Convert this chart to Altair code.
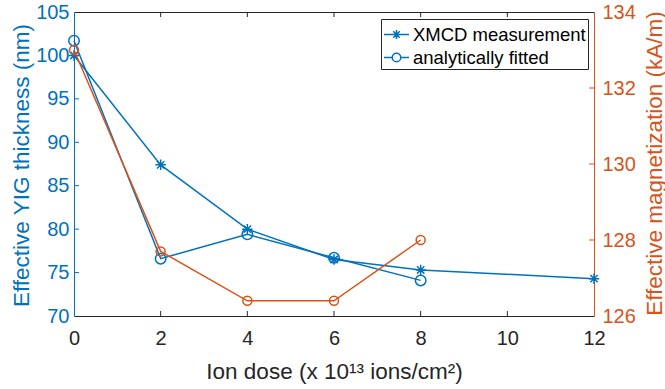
import altair as alt
import pandas as pd

# ---- data ----
dose_xmcd = [0, 2, 4, 6, 8, 12]
thick_xmcd = [100.0, 87.4, 80.0, 76.5, 75.3, 74.3]
dose_fit = [0, 2, 4, 6, 8]
thick_fit = [101.7, 76.6, 79.4, 76.7, 74.1]
dose_mag = [0, 2, 4, 6, 8]
mag_fit = [133.0, 127.7, 126.4, 126.4, 128.0]
series_names = ["XMCD measurement", "analytically fitted"]
x_ticks = [0, 2, 4, 6, 8, 10, 12]
left_ticks = [70, 75, 80, 85, 90, 95, 100, 105]
right_ticks = [126, 128, 130, 132, 134]

BLUE = "#0072BD"
ORANGE = "#D95319"
DARK = "#262626"
FONT = "Liberation Sans"
W, H = 520, 304

blue_df = pd.DataFrame({
    "dose": dose_xmcd + dose_fit,
    "thick": thick_xmcd + thick_fit,
    "series": [series_names[0]] * len(dose_xmcd) + [series_names[1]] * len(dose_fit),
})
mag_df = pd.DataFrame({"dose": dose_mag, "mag": mag_fit})
xt_df = pd.DataFrame({"t": x_ticks[1:-1]})
lt_df = pd.DataFrame({"lt": left_ticks[1:-1]})
rt_df = pd.DataFrame({"rt": right_ticks[1:-1]})

x_scale = alt.Scale(domain=[0, 12], nice=False, zero=False)
left_scale = alt.Scale(domain=[70, 105], nice=False, zero=False)
right_scale = alt.Scale(domain=[126, 134], nice=False, zero=False)

bottom_axis = alt.Axis(
    orient="bottom", values=x_ticks, ticks=False, grid=False, labelFlush=False,
    labelPadding=12, labelFontSize=20, labelFont=FONT, labelColor=DARK,
    domainColor=DARK, domainWidth=1,
    title="Ion dose (x 10¹³ ions/cm²)", titleFont=FONT, titleFontSize=22.5,
    titleFontWeight="normal", titleColor=DARK, titleX=260, titleY=62,
    titleAlign="center", titleBaseline="alphabetic",
)
top_axis = alt.Axis(
    orient="top", values=x_ticks, ticks=False, labels=False, grid=False,
    domainColor=DARK, domainWidth=1, title="",
)
left_axis = alt.Axis(
    orient="left", values=left_ticks, ticks=False, grid=False, labelFlush=False,
    labelPadding=5, labelFontSize=20, labelFont=FONT, labelColor=BLUE,
    domainColor=BLUE, domainWidth=1,
    title="Effective YIG thickness (nm)", titleFont=FONT, titleFontSize=22.5,
    titleFontWeight="normal", titleColor=BLUE, titleAngle=270,
    titleX=-46, titleY=153, titleAlign="center", titleBaseline="alphabetic",
)
right_axis = alt.Axis(
    orient="right", values=right_ticks, ticks=False, grid=False, labelFlush=False,
    labelPadding=8, labelFontSize=20, labelFont=FONT, labelColor=ORANGE,
    domainColor=ORANGE, domainWidth=1,
    title="Effective magnetization (kA/m)", titleFont=FONT, titleFontSize=22.5,
    titleFontWeight="normal", titleColor=ORANGE, titleAngle=270,
    titleX=67, titleY=151, titleAlign="center", titleBaseline="alphabetic",
)

AST = "M-1,0L1,0M0,-1L0,1M-0.7,-0.7L0.7,0.7M-0.7,0.7L0.7,-0.7"
LEG_AST = "M-1,0L1,0M0,-0.36L0,0.36M-0.26,-0.26L0.26,0.26M-0.26,0.26L0.26,-0.26"
LEG_CIR = "M-1,0L-0.34,0M0.34,0L1,0M0.34,0A0.34,0.34,0,1,1,-0.34,0A0.34,0.34,0,1,1,0.34,0"

# ---- left (blue) group ----
left_tick_layer = alt.Chart(lt_df).mark_rule(color=BLUE, strokeWidth=1).encode(
    y=alt.Y("lt:Q", scale=left_scale, axis=left_axis),
    x=alt.value(0), x2=alt.value(5),
)
bottom_tick_layer = alt.Chart(xt_df).mark_rule(color=DARK, strokeWidth=1).encode(
    x=alt.X("t:Q", scale=x_scale, axis=bottom_axis),
    y=alt.value(H), y2=alt.value(H - 5),
)
blue_lines = alt.Chart(blue_df).mark_line(color=BLUE, strokeWidth=1.5).encode(
    x=alt.X("dose:Q", scale=x_scale, axis=bottom_axis),
    y=alt.Y("thick:Q", scale=left_scale, axis=left_axis),
    detail="series:N",
)
blue_points = alt.Chart(blue_df).mark_point(
    color=BLUE, filled=False, strokeWidth=1.5, size=110, opacity=1
).encode(
    x=alt.X("dose:Q", scale=x_scale, axis=bottom_axis),
    y=alt.Y("thick:Q", scale=left_scale, axis=left_axis),
    shape=alt.Shape("series:N", scale=alt.Scale(domain=series_names, range=[AST, "circle"]), legend=None),
)
legend_layer = alt.Chart(blue_df).mark_point(
    color=BLUE, filled=False, strokeWidth=1.5, opacity=0
).encode(
    x=alt.X("dose:Q", scale=x_scale, axis=bottom_axis),
    y=alt.Y("thick:Q", scale=left_scale, axis=left_axis),
    shape=alt.Shape(
        "series:N",
        scale=alt.Scale(domain=series_names, range=[LEG_AST, LEG_CIR]),
        legend=alt.Legend(
            title=None, orient="none", legendX=307, legendY=7,
            symbolSize=625, symbolStrokeColor=BLUE, symbolStrokeWidth=1.5,
            symbolOpacity=1, symbolFillColor="transparent",
            labelFont=FONT, labelFontSize=18.5, labelColor="black", labelOffset=3,
            labelLimit=400,
            strokeColor=DARK, fillColor="white", padding=2, rowPadding=0,
            cornerRadius=0,
        ),
    ),
)
left_group = alt.layer(
    left_tick_layer, bottom_tick_layer, blue_lines, blue_points, legend_layer
).resolve_scale(shape="independent")

# ---- right (orange) group ----
right_tick_layer = alt.Chart(rt_df).mark_rule(color=ORANGE, strokeWidth=1).encode(
    y=alt.Y("rt:Q", scale=right_scale, axis=right_axis),
    x=alt.value(W), x2=alt.value(W - 5),
)
top_tick_layer = alt.Chart(xt_df).mark_rule(color=DARK, strokeWidth=1).encode(
    x=alt.X("t:Q", scale=x_scale, axis=top_axis),
    y=alt.value(0), y2=alt.value(5),
)
orange_line = alt.Chart(mag_df).mark_line(color=ORANGE, strokeWidth=1.5).encode(
    x=alt.X("dose:Q", scale=x_scale, axis=top_axis),
    y=alt.Y("mag:Q", scale=right_scale, axis=right_axis),
)
orange_points = alt.Chart(mag_df).mark_point(
    color=ORANGE, filled=False, strokeWidth=1.5, size=81, shape="circle", opacity=1
).encode(
    x=alt.X("dose:Q", scale=x_scale, axis=top_axis),
    y=alt.Y("mag:Q", scale=right_scale, axis=right_axis),
)
right_group = alt.layer(right_tick_layer, top_tick_layer, orange_line, orange_points)

chart = (
    alt.layer(left_group, right_group)
    .resolve_scale(y="independent", shape="independent")
    .resolve_axis(x="independent")
    .properties(
        width=W, height=H,
        autosize=alt.AutoSizeParams(type="none"),
        padding={"left": 74, "top": 12, "right": 71, "bottom": 73},
        background="white",
    )
    .configure_view(strokeWidth=0)
)

chart.save("out.html", embed_options={"renderer": "svg", "actions": False})
